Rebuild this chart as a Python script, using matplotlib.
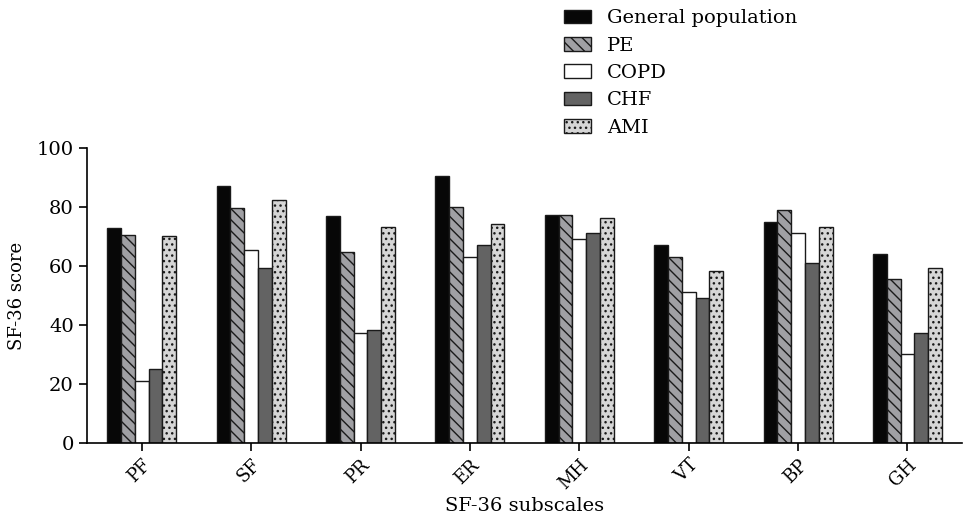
import numpy as np
import matplotlib.pyplot as plt

plt.rcParams['font.family'] = ['DejaVu Serif']
plt.rcParams['hatch.linewidth'] = 1.0

# --- Dane ---
subscales = ['PF', 'SF', 'PR', 'ER', 'MH', 'VT', 'BP', 'GH']
general = [73, 87, 77, 90.5, 77.4, 67.3, 74.8, 64.2]
pe = [70.7, 79.6, 64.7, 80, 77.2, 63, 78.9, 55.5]
copd = [21.2, 65.3, 37.2, 63.2, 69.3, 51.1, 71.2, 30.1]
chf = [25.3, 59.3, 38.3, 67.3, 71.3, 49.2, 61.2, 37.2]
ami = [70.3, 82.3, 73.3, 74.3, 76.2, 58.2, 73.4, 59.3]

series = [
    ('General population', general, '#070707', None),
    ('PE', pe, '#a0a0a4', '\\\\\\'),
    ('COPD', copd, '#ffffff', None),
    ('CHF', chf, '#636363', None),
    ('AMI', ami, '#d6d6d6', '...'),
]

# --- Wykres ---
fig = plt.figure(figsize=(9.67, 5.18), dpi=100)
ax = fig.add_axes([0.09, 0.1442, 0.905, 0.57])

x = np.arange(len(subscales))
w = 0.126
for i, (name, vals, col, hatch) in enumerate(series):
    ax.bar(x + (i - 2) * w, vals, width=w, color=col, edgecolor='#1a1a1a',
           linewidth=1.0, hatch=hatch, label=name)

ax.set_xlim(-0.5, 7.5)
ax.set_ylim(0, 100)
ax.set_yticks([0, 20, 40, 60, 80, 100])
ax.set_xticks(x)
ax.set_xticklabels(subscales, rotation=45, ha='right', rotation_mode='anchor')
ax.tick_params(axis='both', labelsize=14, direction='out', length=6, width=1.2)
ax.tick_params(axis='x', labelsize=13, pad=3)
for s in ['top', 'right']:
    ax.spines[s].set_visible(False)
for s in ['left', 'bottom']:
    ax.spines[s].set_linewidth(1.2)

ax.set_ylabel('SF-36 score', fontsize=13, labelpad=8)
ax.set_xlabel('SF-36 subscales', fontsize=14, labelpad=3)

fig.legend(loc='upper left', bbox_to_anchor=(0.565, 1.016), frameon=False,
           fontsize=14, handlelength=1.4, handleheight=0.7,
           labelspacing=0.48, handletextpad=0.8)

plt.savefig('out.png', dpi=100)
